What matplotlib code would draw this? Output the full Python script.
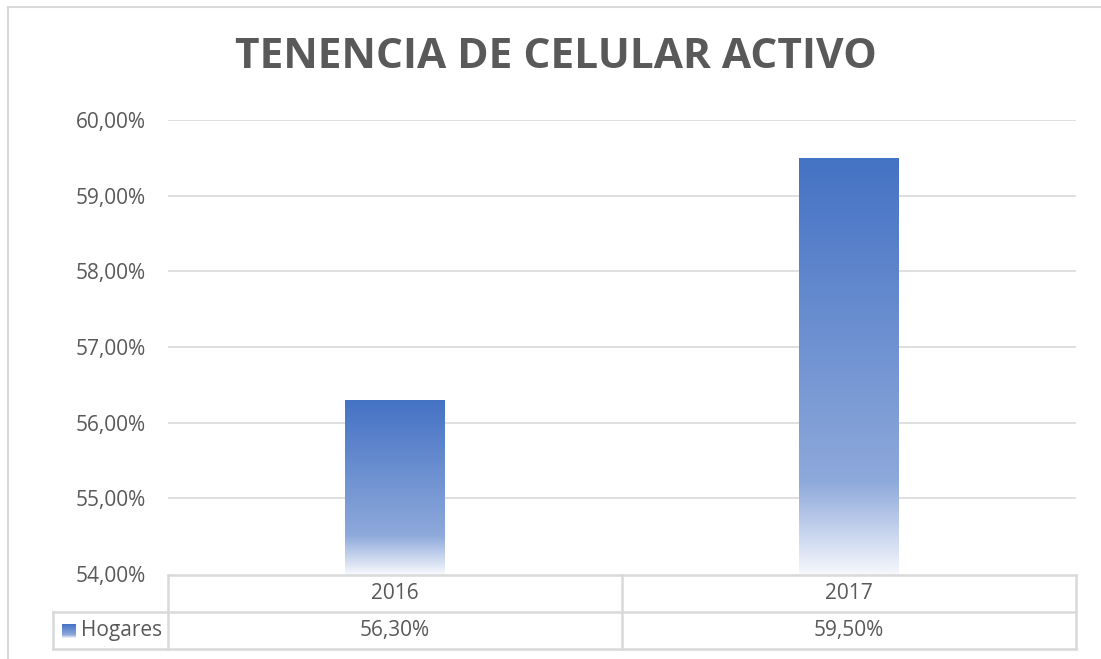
"""Tenencia de celular activo: gradient bars with an Excel-style data table."""

import matplotlib.pyplot as plt
import numpy as np
from matplotlib.colors import LinearSegmentedColormap
from matplotlib.lines import Line2D

categories = ["2016", "2017"]
values = [56.30, 59.50]
series_name = "Hogares"
y_ticks = [54, 55, 56, 57, 58, 59, 60]
title = "TENENCIA DE CELULAR ACTIVO"

W, H = 1101, 659
GRID = "#D9D9D9"
TEXT = "#595959"

plt.rcParams["font.family"] = ["Open Sans", "DejaVu Sans"]

grad = LinearSegmentedColormap.from_list(
    "bar_grad", [(0.0, "#F5F7FC"), (0.22, "#8EA9DB"), (1.0, "#4472C4")]
)


def fmt(v):
    return f"{v:.2f}".replace(".", ",") + "%"


def fx(px):
    return px / W


def fy(py):
    return 1 - py / H


fig = plt.figure(figsize=(W / 100, H / 100), dpi=100)

# chart frame (only left and top edges are visible in the crop)
fig.add_artist(Line2D([fx(8), fx(8)], [0, fy(7)], color=GRID, lw=1.5))
fig.add_artist(Line2D([fx(8), 1], [fy(7), fy(7)], color=GRID, lw=1.5))

ax = fig.add_axes([fx(168), fy(574), fx(1076) - fx(168), fy(120) - fy(574)])
x = np.arange(len(categories))
bars = ax.bar(x, values, width=0.22, bottom=0, facecolor="none", edgecolor="none")

for rect in bars:
    x0, w = rect.get_x(), rect.get_width()
    top = rect.get_height()
    img = ax.imshow(
        np.linspace(0, 1, 256).reshape(-1, 1),
        extent=(x0, x0 + w, y_ticks[0], top),
        origin="lower",
        aspect="auto",
        cmap=grad,
        zorder=2,
    )
    img.set_clip_path(rect)
ax.set_xlim(-0.5, len(categories) - 0.5)
ax.set_ylim(y_ticks[0], y_ticks[-1])

ax.set_yticks(y_ticks)
ax.set_yticklabels([fmt(t) for t in y_ticks], fontsize=15, color=TEXT)
ax.tick_params(axis="y", length=0, pad=16)
ax.set_xticks([])
for t in y_ticks[1:]:
    ax.axhline(t, color=GRID, lw=1.2, zorder=1)
for s in ax.spines.values():
    s.set_visible(False)

fig.text(fx(556), fy(58), title, ha="center", va="center",
         fontsize=30.5, fontweight="bold", color=TEXT)

# data table below the plot area
tx0, tx1 = 53, 1076
tab = fig.add_axes([fx(tx0), fy(649), fx(tx1) - fx(tx0), fy(574) - fy(649)])
tab.axis("off")
col_edges = np.linspace(168, 1076, len(categories) + 1)
lw = 1.8
tab.plot([168, 1076], [575, 575], color=GRID, lw=lw, clip_on=False)
tab.plot([tx0, 1076], [612, 612], color=GRID, lw=lw, clip_on=False)
tab.plot([tx0, 1076], [649, 649], color=GRID, lw=lw, clip_on=False)
tab.plot([tx0, tx0], [612, 649], color=GRID, lw=lw, clip_on=False)
for e in col_edges:
    tab.plot([e, e], [575, 649], color=GRID, lw=lw, clip_on=False)

for i, (cat, val) in enumerate(zip(categories, values)):
    cx = (col_edges[i] + col_edges[i + 1]) / 2
    tab.text(cx, 593.5, cat, ha="center", va="center", fontsize=15, color=TEXT)
    tab.text(cx, 630.5, fmt(val), ha="center", va="center", fontsize=15, color=TEXT)

tab.imshow(np.linspace(0, 1, 64).reshape(-1, 1), extent=(62, 76, 638, 624),
           origin="lower", aspect="auto", cmap=grad)
tab.set_xlim(tx0, tx1)
tab.set_ylim(649, 574)
tab.text(81, 630.5, series_name, ha="left", va="center", fontsize=15, color=TEXT)

fig.savefig("out.png", dpi=100, facecolor="white")
